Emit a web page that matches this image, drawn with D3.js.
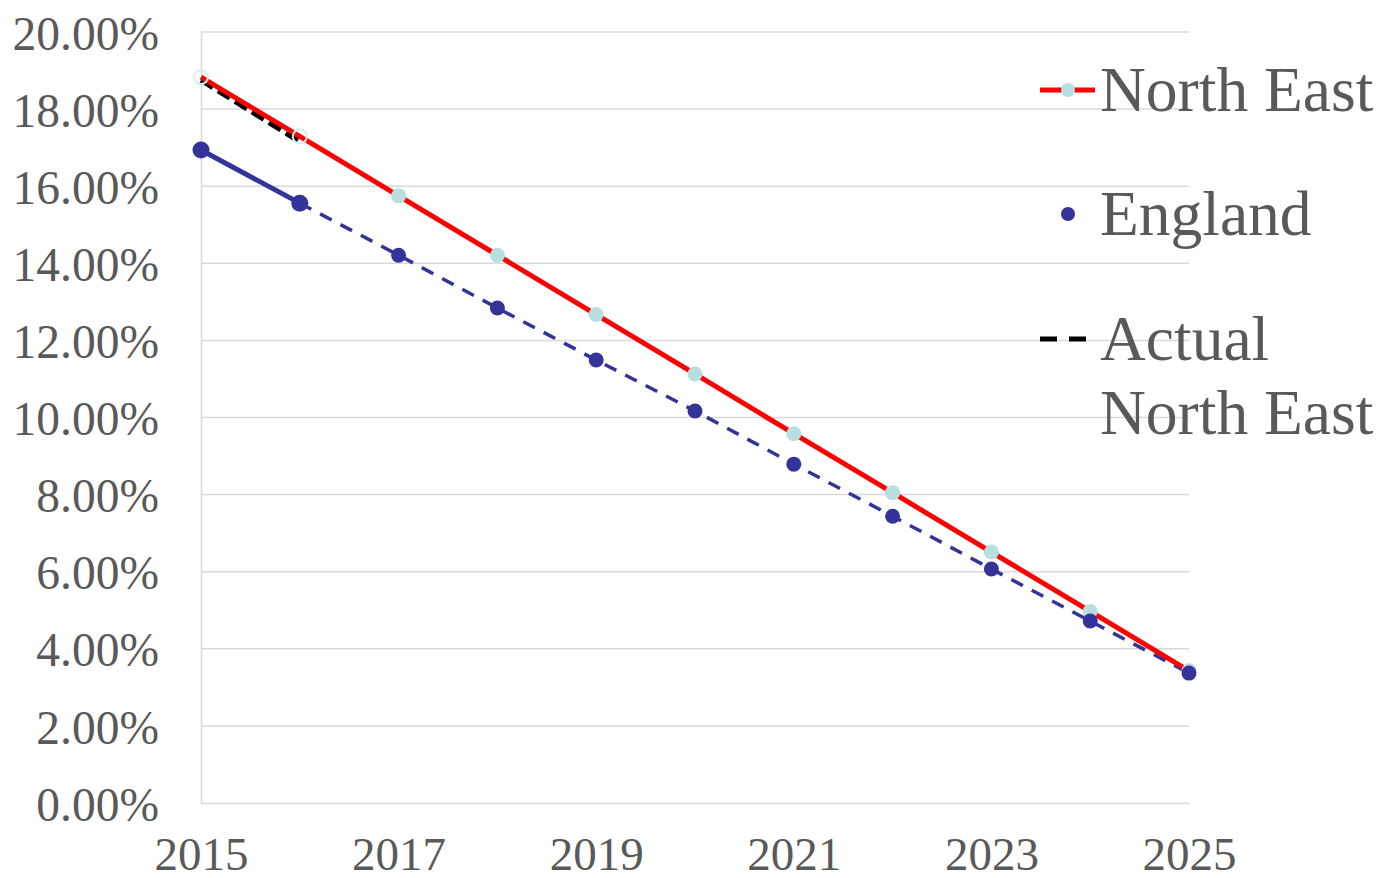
<!DOCTYPE html>
<html>
<head>
<meta charset="utf-8">
<script src="https://cdn.jsdelivr.net/npm/d3@7"></script>
<style>
  body { margin: 0; background: #fff; }
  text { font-family: "Liberation Serif", "Times New Roman", serif; fill: #595959; }
</style>
</head>
<body>
<div id="chart"></div>
<script>
// data
var years = [2015, 2016, 2017, 2018, 2019, 2020, 2021, 2022, 2023, 2024, 2025];
var northEast = [0.1883, 0.1729, 0.1575, 0.1421, 0.1267, 0.1113, 0.0958, 0.0805, 0.0651, 0.0497, 0.0343];
var england = [0.1694, 0.1556, 0.1421, 0.1284, 0.1149, 0.1017, 0.0879, 0.0744, 0.0607, 0.0472, 0.0337];
var actualYears = [2015, 2016];
var actualNorthEast = [0.1875, 0.1715];
var yTicks = [0, 0.02, 0.04, 0.06, 0.08, 0.10, 0.12, 0.14, 0.16, 0.18, 0.20];
var xTicks = [2015, 2017, 2019, 2021, 2023, 2025];
var legendLabels = [["North East"], ["England"], ["Actual", "North East"]];

var svgWidth = 1379;
var svgHeight = 878;

var svg = d3.select("#chart")
  .append("svg")
  .attr("width", svgWidth)
  .attr("height", svgHeight);

var x = d3.scaleLinear().domain([2015, 2025]).range([201, 1189]);
var y = d3.scaleLinear().domain([0, 0.2]).range([803, 32]);

// gridlines
svg.append("g")
  .selectAll("line")
  .data(yTicks.slice(1))
  .enter().append("line")
  .attr("x1", x(2015))
  .attr("x2", x(2025))
  .attr("y1", d => y(d))
  .attr("y2", d => y(d))
  .attr("stroke", "#d9d9d9")
  .attr("stroke-width", 1.5);

// y axis
var yAxis = svg.append("g")
  .attr("transform", `translate(${x(2015)},0)`)
  .call(d3.axisLeft(y).tickValues(yTicks).tickFormat(d3.format(".2%")).tickSize(0).tickPadding(42));
yAxis.select(".domain").attr("stroke", "#d9d9d9").attr("stroke-width", 1.5);
yAxis.selectAll("text").attr("font-size", 47.5).attr("dy", "0.36em")
  .style("font-family", "Liberation Serif").attr("fill", "#595959");

// x axis
var xAxis = svg.append("g")
  .attr("transform", `translate(0,${y(0)})`)
  .call(d3.axisBottom(x).tickValues(xTicks).tickFormat(d3.format("d")).tickSize(0).tickPadding(34));
xAxis.select(".domain").attr("stroke", "#d9d9d9").attr("stroke-width", 1.5);
xAxis.selectAll("text").attr("font-size", 47)
  .style("font-family", "Liberation Serif").attr("fill", "#595959");

var neData = years.map((d, i) => ({ year: d, value: northEast[i] }));
var enData = years.map((d, i) => ({ year: d, value: england[i] }));
var acData = actualYears.map((d, i) => ({ year: d, value: actualNorthEast[i] }));

var line = d3.line().x(d => x(d.year)).y(d => y(d.value));

// actual north east (black dashed)
svg.append("path")
  .datum(acData)
  .attr("d", line)
  .attr("fill", "none")
  .attr("stroke", "#000")
  .attr("stroke-width", 5)
  .attr("stroke-dasharray", "14,6");

// england: solid first segment, dashed after
svg.append("path")
  .datum(enData.slice(0, 2))
  .attr("d", line)
  .attr("fill", "none")
  .attr("stroke", "#333399")
  .attr("stroke-width", 5);

svg.append("path")
  .datum(enData.slice(1))
  .attr("d", line)
  .attr("fill", "none")
  .attr("stroke", "#333399")
  .attr("stroke-width", 3.5)
  .attr("stroke-dasharray", "13,10");

// north east red line
svg.append("path")
  .datum(neData)
  .attr("d", line)
  .attr("fill", "none")
  .attr("stroke", "#ff0000")
  .attr("stroke-width", 5);

// north east markers
svg.append("g")
  .selectAll("circle")
  .data(neData)
  .enter().append("circle")
  .attr("cx", d => x(d.year))
  .attr("cy", d => y(d.value))
  .attr("r", (d, i) => i < 2 ? 7 : 7.5)
  .attr("fill", (d, i) => i < 2 ? "#ffffff" : "#b7dfe0")
  .attr("fill-opacity", (d, i) => i < 2 ? 0 : 1)
  .attr("stroke", "#d6eeee")
  .attr("stroke-width", (d, i) => i < 2 ? 2 : 0);

// england markers
svg.append("g")
  .selectAll("circle")
  .data(enData)
  .enter().append("circle")
  .attr("cx", d => x(d.year))
  .attr("cy", d => y(d.value))
  .attr("r", (d, i) => i < 2 ? 8.5 : 7.5)
  .attr("fill", "#333399");

// legend
var legend = svg.append("g");
var legendY = [90, 214, 339];

legend.append("line")
  .attr("x1", 1040).attr("x2", 1095)
  .attr("y1", legendY[0]).attr("y2", legendY[0])
  .attr("stroke", "#ff0000").attr("stroke-width", 5);
legend.append("circle")
  .attr("cx", 1068).attr("cy", legendY[0]).attr("r", 7)
  .attr("fill", "#b7dfe0");

legend.append("circle")
  .attr("cx", 1068).attr("cy", legendY[1]).attr("r", 7)
  .attr("fill", "#333399");

legend.append("line")
  .attr("x1", 1040).attr("x2", 1096)
  .attr("y1", legendY[2]).attr("y2", legendY[2])
  .attr("stroke", "#000").attr("stroke-width", 5)
  .attr("stroke-dasharray", "17,12");

legendLabels.forEach(function(lines, i) {
  var t = legend.append("text")
    .attr("x", 1100)
    .attr("y", legendY[i] + 21)
    .attr("font-size", 63.5)
    .attr("fill", "#595959");
  lines.forEach(function(s, j) {
    t.append("tspan").attr("x", 1100).attr("dy", j === 0 ? 0 : 74).text(s);
  });
});
</script>
</body>
</html>
